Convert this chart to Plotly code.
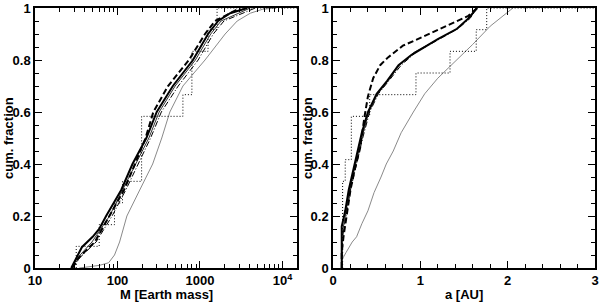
import plotly.graph_objects as go
import math

# ---------------- data: left panel (mass) ----------------
frac_levels_A = [0.0, 0.03, 0.08, 0.12, 0.15, 0.2, 0.3, 0.4, 0.5, 0.6, 0.7, 0.8, 0.9, 0.95, 0.98, 1.0]
mass_A = [27.5, 31, 37, 50, 60, 72.8, 111, 152, 224, 299, 469, 822, 1253, 1660, 2323, 3743]

frac_levels_B = [0.0, 0.04, 0.1, 0.2, 0.3, 0.4, 0.5, 0.6, 0.7, 0.8, 0.9, 0.95, 1.0]
mass_B = [28.3, 34, 53, 80, 120, 163, 219, 272, 410, 735, 1150, 1520, 3076]

frac_levels_C = [0.0, 0.04, 0.1, 0.2, 0.3, 0.4, 0.5, 0.6, 0.7, 0.8, 0.9, 0.95, 1.0]
mass_C = [28, 33, 49, 80, 115, 168, 240, 320, 500, 880, 1350, 1800, 4077]

frac_levels_D = [0.0, 0.04, 0.1, 0.2, 0.3, 0.4, 0.5, 0.6, 0.7, 0.8, 0.9, 0.95, 1.0]
mass_D = [28.5, 35, 55, 86, 126, 180, 252, 340, 545, 950, 1450, 1950, 4690]

frac_levels_E = [0.0, 0.003, 0.01, 0.02, 0.05, 0.1, 0.2, 0.3, 0.4, 0.5, 0.6, 0.7, 0.8, 0.9, 0.95, 0.98, 0.995, 1.0]
mass_E = [34.4, 40, 60, 78, 92, 106, 130, 186, 267, 344, 431, 621, 1151, 2018, 2826, 4077, 5705, 8222]

obs_mass = [31.6, 60, 92, 115, 196, 196, 196, 621, 798, 798, 1253, 1611]

# ---------------- data: right panel (semi-major axis) ----------------
frac_r_A = [0.0, 0.16, 0.19, 0.22, 0.3, 0.37, 0.43, 0.52, 0.6, 0.67, 0.72, 0.78, 0.82, 0.88, 0.92, 0.96, 1.0]
a_A = [0.10, 0.10, 0.12, 0.14, 0.18, 0.23, 0.27, 0.33, 0.40, 0.50, 0.62, 0.75, 0.90, 1.2, 1.42, 1.55, 1.65]

frac_r_B = [0.0, 0.06, 0.12, 0.2, 0.3, 0.38, 0.46, 0.58, 0.66, 0.73, 0.78, 0.81, 0.855, 0.88, 0.91, 0.94, 0.97, 1.0]
a_B = [0.10, 0.10, 0.12, 0.157, 0.2, 0.25, 0.31, 0.36, 0.40, 0.46, 0.54, 0.63, 0.8, 0.97, 1.17, 1.36, 1.55, 1.65]

frac_r_C = [0.0, 0.12, 0.2, 0.3, 0.4, 0.5, 0.6, 0.67, 0.72, 0.78, 0.83, 0.88, 0.92, 0.96, 1.0]
a_C = [0.10, 0.10, 0.14, 0.19, 0.26, 0.33, 0.41, 0.51, 0.63, 0.76, 0.93, 1.2, 1.42, 1.56, 1.65]

frac_r_D = [0.0, 0.1, 0.2, 0.3, 0.4, 0.5, 0.6, 0.67, 0.72, 0.78, 0.83, 0.88, 0.92, 0.96, 1.0]
a_D = [0.10, 0.10, 0.15, 0.2, 0.27, 0.34, 0.42, 0.52, 0.64, 0.78, 0.95, 1.22, 1.43, 1.57, 1.65]

frac_r_E = [0.0, 0.03, 0.06, 0.1, 0.12, 0.17, 0.22, 0.29, 0.35, 0.4, 0.45, 0.52, 0.6, 0.67, 0.73, 0.8, 0.86, 0.93, 0.97, 1.0]
a_E = [0.10, 0.10, 0.15, 0.22, 0.27, 0.33, 0.40, 0.47, 0.55, 0.61, 0.69, 0.78, 0.92, 1.05, 1.2, 1.42, 1.6, 1.8, 1.95, 2.06]

obs_a = [0.11, 0.11, 0.11, 0.11, 0.14, 0.21, 0.21, 0.42, 0.95, 1.34, 1.64, 1.76]

# ---------------- axes text ----------------
y_ticks = [0, 0.2, 0.4, 0.6, 0.8, 1]
y_minor = [0.05 * i for i in range(21)]
mass_ticks = [10, 100, 1000, 10000]
mass_ticktext = ["10", "100", "1000", "10<sup>4</sup>"]
mass_minor = [m * d for d in (10, 100, 1000) for m in range(2, 10)]
a_ticks = [0, 1, 2, 3]
a_minor = [0.2 * i for i in range(16)]
mass_range = [10, 15000]
a_range = [0, 3]
xlabel_left = "M [Earth mass]"
xlabel_right = "a [AU]"
ylabel = "cum. fraction"

# ---------------- figure ----------------
W, H = 600, 302
L_dom = [35 / W, 297 / W]
R_dom = [333 / W, 595 / W]
Y_dom = [(H - 268) / H, (H - 8) / H]

fig = go.Figure()

BLACK = "black"
GRAY = "#8a8a8a"


def obs_stair(vals):
    xs = list(vals) + [None]
    ys = [i / len(vals) for i in range(len(vals))] + [1.0]
    return xs, ys


styles = [
    dict(color=BLACK, width=2.0, dash="solid"),
    dict(color=BLACK, width=2.0, dash="6px,3px"),
    dict(color="#333333", width=1.0, dash="solid"),
    dict(color=BLACK, width=1.0, dash="6px,2px,1px,2px"),
    dict(color=GRAY, width=1.0, dash="solid"),
]

left_sets = [(mass_A, frac_levels_A), (mass_B, frac_levels_B), (mass_C, frac_levels_C),
             (mass_D, frac_levels_D), (mass_E, frac_levels_E)]
right_sets = [(a_A, frac_r_A), (a_B, frac_r_B), (a_C, frac_r_C), (a_D, frac_r_D), (a_E, frac_r_E)]

order = [4, 2, 3, 1, 0]
for k in order:
    xs, ys = left_sets[k]
    fig.add_trace(go.Scatter(x=xs, y=ys, mode="lines", line=styles[k], xaxis="x", yaxis="y",
                             showlegend=False, hoverinfo="skip"))
    xs, ys = right_sets[k]
    fig.add_trace(go.Scatter(x=xs, y=ys, mode="lines", line=styles[k], xaxis="x2", yaxis="y2",
                             showlegend=False, hoverinfo="skip"))

xs, ys = obs_stair(obs_mass)
xs[-1] = mass_range[1]
fig.add_trace(go.Scatter(x=xs, y=ys, mode="lines", line=dict(color=BLACK, width=1, dash="1px,2px"),
                         line_shape="vh", xaxis="x", yaxis="y", showlegend=False, hoverinfo="skip"))
xs, ys = obs_stair(obs_a)
xs[-1] = a_range[1]
fig.add_trace(go.Scatter(x=xs, y=ys, mode="lines", line=dict(color=BLACK, width=1, dash="1px,2px"),
                         line_shape="vh", xaxis="x2", yaxis="y2", showlegend=False, hoverinfo="skip"))

tickfont = dict(family="Liberation Sans", size=13, color="black", weight="bold")
common = dict(showline=True, linecolor="black", linewidth=1.5, mirror="allticks", ticks="inside",
              ticklen=7, tickwidth=1, tickcolor="black", showgrid=False, zeroline=False,
              tickfont=tickfont, automargin=False)
minor_common = dict(ticks="inside", ticklen=4, tickcolor="black", tickwidth=1, showgrid=False)

fig.update_layout(
    width=W, height=H, margin=dict(l=0, r=0, t=0, b=0, autoexpand=False),
    paper_bgcolor="white", plot_bgcolor="white",
    xaxis=dict(domain=L_dom, anchor="y", type="log",
               range=[math.log10(mass_range[0]), math.log10(mass_range[1])],
               tickvals=mass_ticks, ticktext=mass_ticktext,
               minor=dict(tickvals=mass_minor, **minor_common), **common),
    yaxis=dict(domain=Y_dom, anchor="x", range=[0, 1], tickvals=y_ticks,
               minor=dict(tickvals=y_minor, **minor_common), **common),
    xaxis2=dict(domain=R_dom, anchor="y2", range=a_range, tickvals=a_ticks,
                minor=dict(tickvals=a_minor, **minor_common), **common),
    yaxis2=dict(domain=Y_dom, anchor="x2", range=[0, 1], tickvals=y_ticks,
                minor=dict(tickvals=y_minor, **minor_common), **common),
)

titlefont = dict(family="Liberation Sans", size=13, color="black", weight="bold")
fig.add_annotation(text=xlabel_left, xref="paper", yref="paper", x=(35 + 297) / 2 / W, y=(H - 294) / H,
                   showarrow=False, font=titlefont, xanchor="center", yanchor="middle")
fig.add_annotation(text=xlabel_right, xref="paper", yref="paper", x=(333 + 595) / 2 / W, y=(H - 294) / H,
                   showarrow=False, font=titlefont, xanchor="center", yanchor="middle")
fig.add_annotation(text=ylabel, xref="paper", yref="paper", x=8 / W, y=(H - 138) / H, textangle=-90,
                   showarrow=False, font=titlefont, xanchor="center", yanchor="middle")
fig.add_annotation(text=ylabel, xref="paper", yref="paper", x=307 / W, y=(H - 138) / H, textangle=-90,
                   showarrow=False, font=titlefont, xanchor="center", yanchor="middle")

fig.write_html("out.html", config={"displayModeBar": False},
               post_script="document.body.style.margin='0';document.body.style.padding='0';")
